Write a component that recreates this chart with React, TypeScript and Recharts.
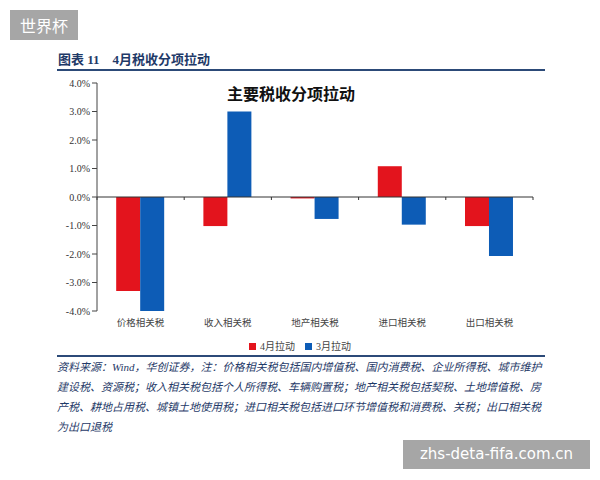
import React from "react";
import { BarChart, Bar, XAxis, YAxis, ReferenceLine, Legend } from "recharts";

const categories = ["价格相关税", "收入相关税", "地产相关税", "进口相关税", "出口相关税"];
const aprPull = [-3.3, -1.02, -0.05, 1.08, -1.02];
const marPull = [-4.0, 3.0, -0.77, -0.97, -2.07];
const yTicks = [-4, -3, -2, -1, 0, 1, 2, 3, 4];
const seriesNames = ["4月拉动", "3月拉动"];
const footerLines = [
  "资料来源：Wind，华创证券，注：价格相关税包括国内增值税、国内消费税、企业所得税、城市维护",
  "建设税、资源税；收入相关税包括个人所得税、车辆购置税；地产相关税包括契税、土地增值税、房",
  "产税、耕地占用税、城镇土地使用税；进口相关税包括进口环节增值税和消费税、关税；出口相关税",
  "为出口退税",
];

const data = categories.map((c, i) => ({ cat: c, apr: aprPull[i], mar: marPull[i] }));

const RED = "#e3141d";
const BLUE = "#0d5cb6";
const NAVY = "#1f3a68";
const SERIF = '"Liberation Serif", "Noto Sans CJK SC", serif';

const ZeroLine = (props: any) => {
  const { x1, y1, x2, y2 } = props;
  const n = categories.length;
  const ticks = [];
  for (let i = 0; i <= n; i++) {
    const x = x1 + ((x2 - x1) * i) / n;
    ticks.push(<line key={i} x1={x} x2={x} y1={y1} y2={y1 + 3} stroke="#333" strokeWidth={1} />);
  }
  return (
    <g>
      <line x1={x1} y1={y1} x2={x2} y2={y2} stroke="#333" strokeWidth={1} />
      {ticks}
    </g>
  );
};

export default function App() {
  return (
    <div
      style={{
        position: "absolute",
        left: 0,
        top: 0,
        width: 600,
        height: 480,
        background: "#fff",
        overflow: "hidden",
        fontFamily: SERIF,
      }}
    >
      <div
        style={{
          position: "absolute",
          left: 10,
          top: 10,
          width: 68,
          height: 30,
          background: "#a6a6a6",
          color: "#fff",
          fontFamily: '"Noto Sans CJK SC", sans-serif',
          fontSize: 16,
          lineHeight: "30px",
          textAlign: "center",
        }}
      >
        世界杯
      </div>
      <div
        style={{
          position: "absolute",
          left: 58,
          top: 49,
          fontSize: 13,
          fontWeight: 700,
          color: NAVY,
          whiteSpace: "nowrap",
          fontFamily: SERIF,
        }}
      >
        图表 11　4月税收分项拉动
      </div>
      <div style={{ position: "absolute", left: 57, top: 69, width: 488, height: 2, background: "#2c4a78" }} />

      <div
        style={{
          position: "absolute",
          left: 227,
          top: 81,
          fontSize: 16,
          fontWeight: 700,
          color: "#111",
          whiteSpace: "nowrap",
          letterSpacing: 0,
        }}
      >
        主要税收分项拉动
      </div>

      <div style={{ position: "absolute", left: 0, top: 0 }}>
        <BarChart
          width={600}
          height={480}
          data={data}
          margin={{ top: 83, right: 67, left: 47, bottom: 123 }}
          barCategoryGap="22%"
          barGap={0}
        >
          <XAxis
            dataKey="cat"
            axisLine={false}
            tickLine={false}
            interval={0}
            height={30}
            tick={{ fontSize: 9.5, fill: "#444", fontFamily: SERIF }}
          />
          <YAxis
            width={50}
            domain={[-4, 4]}
            ticks={yTicks}
            interval={0}
            tickFormatter={(v: number) => v.toFixed(1) + "%"}
            axisLine={{ stroke: "#444" }}
            tickLine={{ stroke: "#444" }}
            tickSize={5}
            tick={{ fontSize: 10, fill: "#333", fontFamily: SERIF }}
          />
          <ReferenceLine y={0} shape={ZeroLine} />
          <Bar dataKey="apr" name={seriesNames[0]} fill={RED} isAnimationActive={false} />
          <Bar dataKey="mar" name={seriesNames[1]} fill={BLUE} isAnimationActive={false} />
          <Legend
            iconType="square"
            iconSize={7}
            itemSorter="dataKey"
            formatter={(v: string) => <span style={{ color: "#444", fontSize: 10, fontFamily: SERIF }}>{v}</span>}
            wrapperStyle={{ position: "absolute", top: 338, left: 5, width: 600, lineHeight: "14px" }}
          />
        </BarChart>
      </div>

      <div style={{ position: "absolute", left: 57, top: 355, width: 488, height: 2, background: "#2c4a78" }} />
      <div
        style={{
          position: "absolute",
          left: 57,
          top: 357,
          width: 464,
          fontSize: 11,
          fontStyle: "italic",
          color: NAVY,
          lineHeight: "20px",
        }}
      >
        {footerLines.map((l, i) => (
          <div
            key={i}
            style={{
              whiteSpace: "nowrap",
              textAlign: i < footerLines.length - 1 ? "justify" : "left",
              textAlignLast: i < footerLines.length - 1 ? "justify" : "left",
            }}
          >
            {l}
          </div>
        ))}
      </div>

      <div
        style={{
          position: "absolute",
          left: 403,
          top: 440,
          width: 187,
          height: 29,
          background: "#a6a6a6",
          color: "#fff",
          fontFamily: '"DejaVu Sans", sans-serif',
          fontSize: 15,
          lineHeight: "29px",
          textAlign: "center",
        }}
      >
        zhs-deta-fifa.com.cn
      </div>
    </div>
  );
}
